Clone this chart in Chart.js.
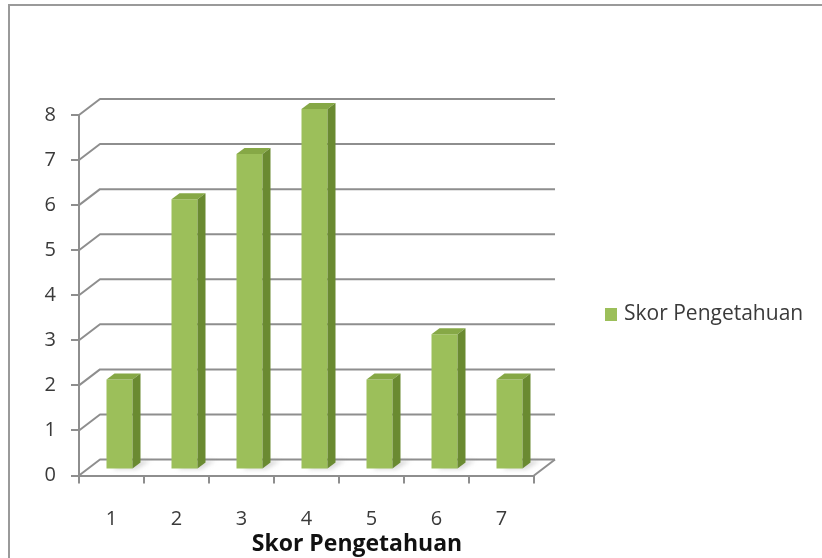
<!DOCTYPE html>
<html>
<head>
<meta charset="utf-8">
<title>Skor Pengetahuan</title>
<script src="https://cdn.jsdelivr.net/npm/chart.js@4.4.1/dist/chart.umd.min.js"></script>
<style>
  html, body { margin: 0; padding: 0; background: #ffffff; }
  canvas { display: block; }
</style>
</head>
<body>
<canvas id="c" width="822" height="558"></canvas>
<script>
// Categories (score) and number of respondents per score
const categories = ['1', '2', '3', '4', '5', '6', '7'];
const counts = [2, 6, 7, 8, 2, 3, 2];
const seriesName = 'Skor Pengetahuan';
const axisTitle = 'Skor Pengetahuan';
const yMin = 0;
const yMax = 8;
const yStep = 1;

// Pseudo-3D geometry
const WALL_DX = 21, WALL_DY = -16;   // depth of the floor / back wall
const BAR_DX = 8, BAR_DY = -6;       // bars sit a little behind the front plane
const BAR_DEPTH_X = 8, BAR_DEPTH_Y = -6;

const FONT = '"Open Sans", "Noto Sans", sans-serif';
const LINE = '#8e8e8e';
const TEXT = '#3a3a3a';
const FRONT = '#9cbf5a';
const TOP = '#86a846';
const SIDE = '#6a8a31';

function frontFill(ctx) {
  const el = ctx.element;
  if (!el || !isFinite(el.x)) return FRONT;
  const c = ctx.chart.ctx;
  const g = c.createLinearGradient(el.x - el.width / 2, 0, el.x + el.width / 2, 0);
  g.addColorStop(0, '#a6c86a');
  g.addColorStop(1, '#93b752');
  return g;
}

const threeD = {
  id: 'threeD',
  beforeDraw(chart) {
    const { ctx, width, height } = chart;
    ctx.save();
    ctx.fillStyle = '#ffffff';
    ctx.fillRect(0, 0, width, height);
    // outer frame (top and left edges)
    ctx.strokeStyle = '#9a9a9a';
    ctx.lineWidth = 2;
    ctx.beginPath();
    ctx.moveTo(9, height);
    ctx.lineTo(9, 5);
    ctx.lineTo(width, 5);
    ctx.stroke();
    ctx.restore();
  },
  beforeDatasetsDraw(chart) {
    const { ctx, chartArea, scales } = chart;
    const y = scales.y;
    const left = chartArea.left, right = chartArea.right;
    ctx.save();
    ctx.strokeStyle = LINE;
    ctx.lineWidth = 2;
    ctx.lineJoin = 'round';
    // left wall diagonals + back wall gridlines
    for (let v = yMin; v <= yMax; v += yStep) {
      const py = y.getPixelForValue(v);
      ctx.beginPath();
      ctx.moveTo(left, py);
      ctx.lineTo(left + WALL_DX, py + WALL_DY);
      ctx.lineTo(right + WALL_DX, py + WALL_DY);
      ctx.stroke();
    }
    // right edge of the floor
    const p0 = y.getPixelForValue(yMin);
    ctx.beginPath();
    ctx.moveTo(right, p0);
    ctx.lineTo(right + WALL_DX, p0 + WALL_DY);
    ctx.stroke();

    // soft floor shadows behind the bars
    const meta = chart.getDatasetMeta(0);
    ctx.filter = 'blur(2px)';
    ctx.fillStyle = 'rgba(150,150,150,0.35)';
    meta.data.forEach(bar => {
      const x1 = bar.x - bar.width / 2 + BAR_DX;
      const x2 = bar.x + bar.width / 2 + BAR_DX;
      const yb = bar.base + BAR_DY;
      ctx.beginPath();
      ctx.moveTo(x1 + 6, yb + 1);
      ctx.lineTo(x2 + 4, yb + 1);
      ctx.lineTo(x2 + BAR_DEPTH_X + 10, yb + BAR_DEPTH_Y - 2);
      ctx.lineTo(x1 + BAR_DEPTH_X + 8, yb + BAR_DEPTH_Y - 2);
      ctx.closePath();
      ctx.fill();
    });
    ctx.filter = 'none';
    ctx.restore();

    ctx.save();
    ctx.translate(BAR_DX, BAR_DY);
  },
  afterDatasetsDraw(chart) {
    const { ctx } = chart;
    const meta = chart.getDatasetMeta(0);
    meta.data.forEach(bar => {
      const x1 = bar.x - bar.width / 2;
      const x2 = bar.x + bar.width / 2;
      const yt = bar.y, yb = bar.base;
      // top face
      ctx.fillStyle = TOP;
      ctx.beginPath();
      ctx.moveTo(x1, yt);
      ctx.lineTo(x1 + BAR_DEPTH_X, yt + BAR_DEPTH_Y);
      ctx.lineTo(x2 + BAR_DEPTH_X, yt + BAR_DEPTH_Y);
      ctx.lineTo(x2, yt);
      ctx.closePath();
      ctx.fill();
      // side face
      ctx.fillStyle = SIDE;
      ctx.beginPath();
      ctx.moveTo(x2, yt);
      ctx.lineTo(x2 + BAR_DEPTH_X, yt + BAR_DEPTH_Y);
      ctx.lineTo(x2 + BAR_DEPTH_X, yb + BAR_DEPTH_Y);
      ctx.lineTo(x2, yb);
      ctx.closePath();
      ctx.fill();
    });
    ctx.restore();
  },
  afterDraw(chart) {
    const { ctx } = chart;
    ctx.save();
    // legend
    ctx.fillStyle = FRONT;
    ctx.fillRect(605, 308, 12, 13);
    ctx.fillStyle = TEXT;
    ctx.font = '21px ' + FONT;
    ctx.textAlign = 'left';
    ctx.textBaseline = 'middle';
    ctx.fillText(seriesName, 624, 314);
    // x-axis title
    ctx.font = 'bold 23px ' + FONT;
    ctx.fillStyle = '#111111';
    ctx.textAlign = 'center';
    ctx.fillText(axisTitle, 357, 544);
    ctx.restore();
  }
};

new Chart(document.getElementById('c'), {
  type: 'bar',
  data: {
    labels: categories,
    datasets: [{
      label: seriesName,
      data: counts,
      backgroundColor: frontFill,
      borderWidth: 0,
      barPercentage: 0.4,
      categoryPercentage: 1.0,
      clip: false
    }]
  },
  options: {
    responsive: false,
    animation: false,
    devicePixelRatio: 1,
    layout: { padding: { top: 115, right: 288, left: 0, bottom: 0 } },
    plugins: {
      legend: { display: false },
      tooltip: { enabled: false }
    },
    scales: {
      x: {
        grid: { offset: true, drawOnChartArea: false, drawTicks: true, tickLength: 8, color: LINE, lineWidth: 2 },
        border: { display: true, color: LINE, width: 2 },
        ticks: { color: TEXT, padding: 24, font: { family: FONT, size: 20 } },
        afterFit(s) { s.height = 558 - 475.5; }
      },
      y: {
        min: yMin,
        max: yMax,
        grid: { drawOnChartArea: false, drawTicks: true, tickLength: 8, color: LINE, lineWidth: 2 },
        border: { display: true, color: LINE, width: 2 },
        ticks: { stepSize: yStep, color: TEXT, padding: 15, font: { family: FONT, size: 20 } },
        afterFit(s) { s.width = 79; }
      }
    }
  },
  plugins: [threeD]
});
</script>
</body>
</html>
